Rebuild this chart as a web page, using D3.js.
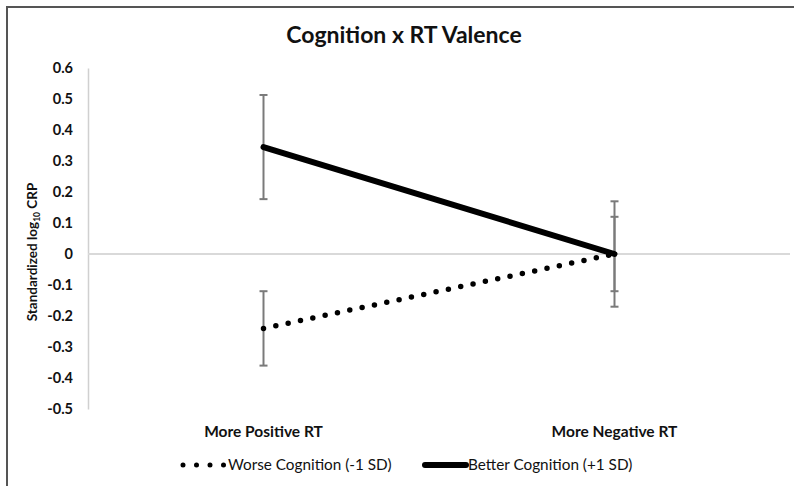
<html>
<script src="https://d3js.org/d3.v7.min.js"></script>
<style>
    body { margin: 0; background: #fff; }
    text { font-family: Lato, "Open Sans", sans-serif; fill: #111; }
</style>
<body>
<svg id="chart"></svg>
<script>
    var width = 794, height = 486;

    // data
    var categories = ["More Positive RT", "More Negative RT"];
    var yTicks = [0.6, 0.5, 0.4, 0.3, 0.2, 0.1, 0, -0.1, -0.2, -0.3, -0.4, -0.5];
    var tickLabels = ["0.6", "0.5", "0.4", "0.3", "0.2", "0.1", "0", "-0.1", "-0.2", "-0.3", "-0.4", "-0.5"];
    var seriesNames = ["Worse Cognition (-1 SD)", "Better Cognition (+1 SD)"];
    var worseValues = [-0.24, 0];
    var worseErrors = [0.12, 0.12];
    var betterValues = [0.345, 0];
    var betterErrors = [0.168, 0.17];

    var svg = d3.select("#chart")
        .attr("width", width)
        .attr("height", height);

    svg.append("rect").attr("width", width).attr("height", height).attr("fill", "#fff");

    // frame (only top and left edges show in the crop)
    svg.append("path")
        .attr("d", "M7," + height + "V7H" + width)
        .attr("fill", "none")
        .attr("stroke", "#555")
        .attr("stroke-width", 2);

    var x = d3.scaleBand()
        .domain(categories)
        .range([88, 790])
        .padding(0);

    var y = d3.scaleLinear()
        .domain([-0.5, 0.6])
        .range([409, 68]);

    function cx(c) { return x(c) + x.bandwidth() / 2; }

    // title
    svg.append("text")
        .attr("x", 404)
        .attr("y", 43)
        .attr("text-anchor", "middle")
        .style("font-size", "23px")
        .style("font-weight", "bold")
        .text("Cognition x RT Valence");

    // y axis
    var yAxis = svg.append("g")
        .attr("transform", "translate(88,0)")
        .call(d3.axisLeft(y).tickValues(yTicks).tickSize(0).tickPadding(15)
            .tickFormat(function (d, i) { return tickLabels[i]; }));
    yAxis.select(".domain").attr("stroke", "#d0d0d0").attr("stroke-width", 1.5);
    yAxis.selectAll("text")
        .style("font-size", "14.5px")
        .style("font-weight", "bold")
        .style("font-family", "Lato, sans-serif")
        .attr("fill", "#222");

    // zero line
    svg.append("line")
        .attr("x1", 88).attr("x2", 790)
        .attr("y1", y(0)).attr("y2", y(0))
        .attr("stroke", "#d9d9d9")
        .attr("stroke-width", 2);

    // y title
    var yt = svg.append("text")
        .attr("transform", "translate(37," + 252 + ") rotate(-90)")
        .attr("text-anchor", "middle")
        .style("font-size", "13.5px")
        .style("font-weight", "bold");
    yt.append("tspan").text("Standardized log");
    yt.append("tspan").attr("dy", 3).style("font-size", "8.5px").text("10");
    yt.append("tspan").attr("dy", -3).text(" CRP");

    // category labels
    svg.selectAll(".cat")
        .data(categories)
        .enter()
        .append("text")
        .attr("class", "cat")
        .attr("x", function (d) { return cx(d); })
        .attr("y", 437)
        .attr("text-anchor", "middle")
        .style("font-size", "15.5px")
        .style("font-weight", "bold")
        .text(function (d) { return d; });

    // error bars
    function errorBars(values, errors) {
        var g = svg.append("g").attr("stroke", "#7a7a7a").attr("stroke-width", 2);
        categories.forEach(function (c, i) {
            var xc = cx(c);
            var top = y(values[i] + errors[i]), bot = y(values[i] - errors[i]);
            g.append("line").attr("x1", xc).attr("x2", xc).attr("y1", top).attr("y2", bot);
            g.append("line").attr("x1", xc - 4).attr("x2", xc + 4).attr("y1", top).attr("y2", top);
            g.append("line").attr("x1", xc - 4).attr("x2", xc + 4).attr("y1", bot).attr("y2", bot);
        });
    }
    errorBars(betterValues, betterErrors);
    errorBars(worseValues, worseErrors);

    var line = d3.line()
        .x(function (d, i) { return cx(categories[i]); })
        .y(function (d) { return y(d); });

    svg.append("path")
        .datum(worseValues)
        .attr("d", line)
        .attr("fill", "none")
        .attr("stroke", "#000")
        .attr("stroke-width", 5.5)
        .attr("stroke-linecap", "round")
        .attr("stroke-dasharray", "0,12.6");

    svg.append("path")
        .datum(betterValues)
        .attr("d", line)
        .attr("fill", "none")
        .attr("stroke", "#000")
        .attr("stroke-width", 6)
        .attr("stroke-linecap", "round");

    // legend
    var legend = svg.append("g");
    legend.append("line")
        .attr("x1", 183).attr("x2", 224).attr("y1", 465).attr("y2", 465)
        .attr("stroke", "#000").attr("stroke-width", 5)
        .attr("stroke-linecap", "round")
        .attr("stroke-dasharray", "0,13.5");
    legend.append("text")
        .attr("x", 228).attr("y", 470)
        .style("font-size", "15.3px")
        .text(seriesNames[0]);
    legend.append("line")
        .attr("x1", 425).attr("x2", 466).attr("y1", 465).attr("y2", 465)
        .attr("stroke", "#000").attr("stroke-width", 6)
        .attr("stroke-linecap", "round");
    legend.append("text")
        .attr("x", 468).attr("y", 470)
        .style("font-size", "15.3px")
        .text(seriesNames[1]);
</script>
</body>
</html>
